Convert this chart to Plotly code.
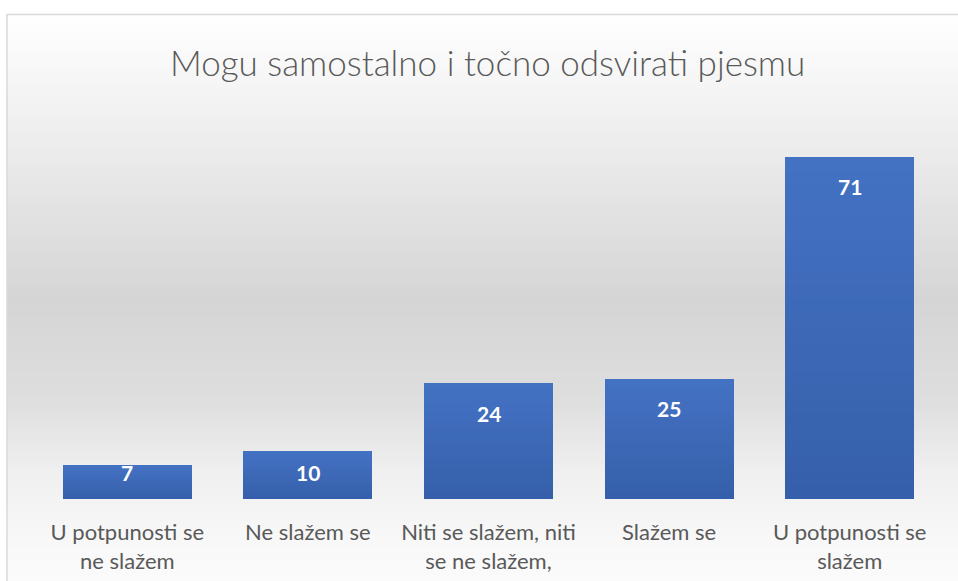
import plotly.graph_objects as go

# ---- data ----
categories = [
    "U potpunosti se<br>ne slažem",
    "Ne slažem se",
    "Niti se slažem, niti<br>se ne slažem,",
    "Slažem se",
    "U potpunosti se<br>slažem",
]
values = [7, 10, 24, 25, 71]
title_text = "Mogu samostalno i točno odsvirati pjesmu"

W, H = 958, 581
FONT = "Lato"

# pixel layout helpers (style only)
x_dom = [37 / W, 940 / W]
base_px = 499
top_px = 499 - 80 * 4.82
y_dom = [1 - base_px / H, 1 - top_px / H]


def lerp(c1, c2, t):
    return tuple(round(a + (b - a) * t) for a, b in zip(c1, c2))


def hexc(c):
    return "#%02x%02x%02x" % c


fig = go.Figure()

# vertical gradient bars built as stacked bands
N = 24
bottom_col = (0x35, 0x5f, 0xa9)
top_col = (0x44, 0x72, 0xc4)
for k in range(N):
    col = hexc(lerp(bottom_col, top_col, (k + 0.5) / N))
    fig.add_trace(go.Bar(
        x=categories, y=[v / N for v in values],
        marker=dict(color=col, line=dict(width=0)),
        width=0.715, hoverinfo="skip", showlegend=False,
    ))

# background gradient inside frame
stops = [(14, (255, 255, 255)), (100, (243, 243, 243)), (300, (213, 213, 213)),
         (400, (222, 222, 222)), (470, (239, 239, 239)), (540, (248, 248, 248)),
         (581, (251, 251, 251))]


def bg_at(y):
    for (y0, c0), (y1, c1) in zip(stops, stops[1:]):
        if y0 <= y <= y1:
            return lerp(c0, c1, (y - y0) / (y1 - y0))
    return stops[-1][1]


shapes = []
step = 3
y = 14
while y < H:
    c = hexc(bg_at(y + step / 2))
    shapes.append(dict(type="rect", xref="paper", yref="paper", layer="below",
                       x0=7 / W, x1=1.01, y0=1 - (y + step + 0.5) / H, y1=1 - y / H,
                       fillcolor=c, line=dict(width=0)))
    y += step
# frame
shapes.append(dict(type="rect", xref="paper", yref="paper", layer="below",
                   x0=7 / W, x1=1.02, y0=-0.02, y1=1 - 14.5 / H,
                   fillcolor="rgba(0,0,0,0)", line=dict(color="#d9d9d9", width=1.5)))

# data labels
px_per_unit = 4.82
annotations = []
for cat, v in zip(categories, values):
    if v * px_per_unit - 30 >= 27:
        ay, ys = v, -30
    else:
        ay, ys = 0, 27
    annotations.append(dict(x=cat, y=ay, xref="x", yref="y", text=str(v),
                            showarrow=False, yshift=ys, yanchor="middle",
                            font=dict(family=FONT, size=21, color="white", weight="bold")))

annotations.append(dict(x=487 / W, y=1 - 62 / H, xref="paper", yref="paper",
                        text=title_text, showarrow=False, xanchor="center", yanchor="middle",
                        font=dict(family=FONT, size=35, color="#595959", weight=300)))

fig.update_layout(
    width=W, height=H,
    margin=dict(l=0, r=0, t=0, b=0),
    paper_bgcolor="white", plot_bgcolor="rgba(0,0,0,0)",
    barmode="stack", bargap=0.285,
    shapes=shapes, annotations=annotations,
    xaxis=dict(domain=x_dom, showgrid=False, zeroline=False, showline=False,
               ticks="", tickfont=dict(family=FONT, size=22, color="#595959"),
               ticklabelstandoff=18),
    yaxis=dict(domain=y_dom, range=[0, 80], visible=False, showgrid=False),
    showlegend=False,
)

fig.write_html("out.html", config={"displayModeBar": False},
               post_script="document.body.style.margin='0px';")
